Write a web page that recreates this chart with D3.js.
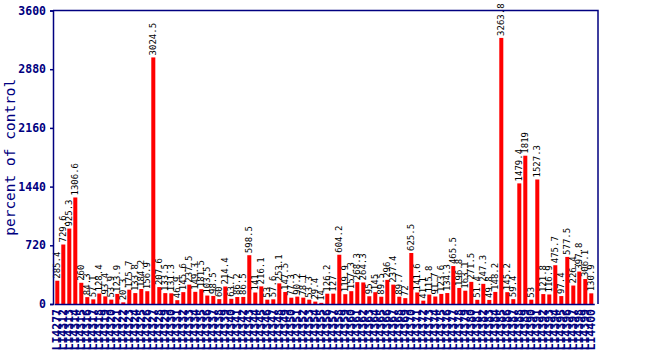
<!DOCTYPE html>
<html><head><meta charset="utf-8">
<script src="https://cdn.jsdelivr.net/npm/d3@7"></script>
<style>body{margin:0;background:#fff}svg{display:block}</style>
</head><body>
<script>
const categories = ["LI4277","LI4312","LI4313"];
for (let n = 4314; n <= 4400; n++) categories.push("LI" + n);
const values = [285.4,729.6,925.3,1306.6,260,84.3,57.1,128.4,93.4,53.9,
123.9,20.3,175.7,133.8,184.2,156.9,3024.5,207.6,133.5,131.3,
46.9,145.6,237.5,149.3,181.5,103.5,98.5,60,214.4,63.7,
86.2,86.5,598.5,141,216.1,53,57.6,253.1,147.5,77.3,
90.2,78.1,53.3,29.4,14,126.2,127,604.2,119.9,157.3,
268.3,264.3,95,145,89.5,296,237.4,89.7,72,625.5,
141.6,41.1,115.8,91.7,123.6,134.3,465.5,196.8,163.1,271.5,
51.4,247.3,49.8,148.2,3263.8,145.2,59.4,1479.4,1819,53,
1527.3,121.8,116.9,475.7,97.4,577.5,226.4,397.8,306.1,130.9];
const yTicks = [0,720,1440,2160,2880,3600];

const W = 650, H = 350;
const pLeft = 53, pRight = 598, pTop = 10.5, pBottom = 304;
const navy = "#000080";
const svg = d3.select("body").append("svg").attr("width", W).attr("height", H);

const x = d3.scaleBand().domain(categories).range([54.3, 594.3]).paddingInner(0.33).paddingOuter(0.165);
const y = d3.scaleLinear().domain([0, 3600]).range([pBottom, pTop]);

// bars
svg.append("g").selectAll("rect").data(values).join("rect")
  .attr("x", (d,i) => x(categories[i]))
  .attr("width", x.bandwidth())
  .attr("y", d => y(d))
  .attr("height", d => pBottom - y(d))
  .attr("fill", "#ff0000");

// value labels
svg.append("g").selectAll("text").data(values).join("text")
  .attr("transform", (d,i) => `translate(${x(categories[i]) + x.bandwidth()/2 + 3},${y(d) - 2}) rotate(-90)`)
  .attr("font-family", "DejaVu Sans Mono, monospace")
  .attr("font-size", 9)
  .attr("fill", "#000")
  .text(d => String(d));

// frame
svg.append("path")
  .attr("d", `M${pLeft},${pTop}H${pRight}V${pBottom}`)
  .attr("fill", "none").attr("stroke", navy).attr("stroke-width", 1.5);

// y axis
const yAxis = d3.axisLeft(y).tickValues(yTicks).tickSize(3).tickPadding(4).tickFormat(d3.format("d"));
const gy = svg.append("g").attr("transform", `translate(${pLeft},0)`).call(yAxis);
gy.select(".domain").attr("stroke", navy).attr("stroke-width", 1.5);
gy.selectAll(".tick line").attr("stroke", navy).attr("stroke-width", 1.5);
gy.selectAll(".tick text").attr("fill", navy).attr("font-family", "DejaVu Sans Mono, monospace")
  .attr("font-size", 11.5).attr("font-weight", "bold");

// x axis
const xAxis = d3.axisBottom(x).tickSize(0).tickPadding(0);
const gx = svg.append("g").attr("transform", `translate(0,${pBottom})`).call(xAxis);
gx.select(".domain").attr("stroke", navy).attr("stroke-width", 1.5);
gx.selectAll(".tick text")
  .attr("fill", navy).attr("font-family", "DejaVu Sans Mono, monospace")
  .attr("font-size", 11.5).attr("font-weight", "bold")
  .attr("text-anchor", "end").attr("dy", null).attr("y", null)
  .attr("transform", "translate(4,5) rotate(-90)");

// y title
svg.append("text")
  .attr("transform", `translate(15,${(pTop+pBottom)/2}) rotate(-90)`)
  .attr("text-anchor", "middle")
  .attr("font-family", "DejaVu Sans Mono, monospace")
  .attr("font-size", 14.5)
  .attr("fill", navy)
  .text("percent of control");
</script>
</body></html>
